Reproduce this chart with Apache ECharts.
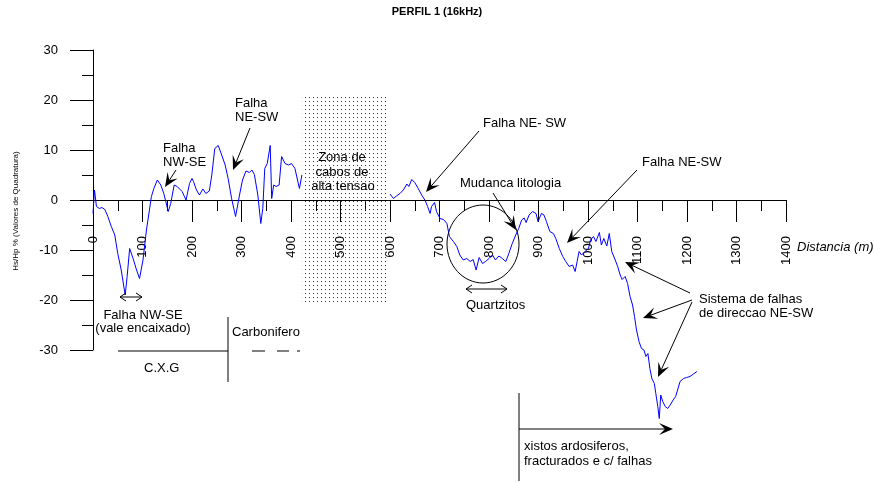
<!DOCTYPE html>
<html><head><meta charset="utf-8">
<script src="https://cdn.jsdelivr.net/npm/echarts@6/dist/echarts.min.js"></script>
<style>html,body{margin:0;padding:0;background:#fff}#c{width:874px;height:483px}</style>
</head><body><div id="c"></div>
<script>
// ---- data ----
const distance = [0,3,7,13,18,24,30,37,44,50,57,65,69,74,81,88,94,101,108,111,118,123,130,137,143,152,157,164,170,180,188,195,200,203,209,215,222,228,235,240,246,253,260,267,273,280,288,296,302,309,316,321,326,333,339,343,347,352,358,361,365,370,376,381,388,395,401,408,417,422,
  510,
  600,607,613,620,627,634,638,644,650,657,664,671,676,681,684,690,694,701,708,715,720,728,735,741,748,755,762,768,774,780,787,793,800,807,813,820,827,834,840,847,854,860,866,871,875,881,888,895,899,906,911,916,923,930,935,942,949,955,962,969,974,978,982,987,994,1001,1005,1011,1016,1023,1027,1032,1038,1043,1048,1055,1060,1065,1069,1075,1080,1085,1090,1094,1098,1103,1108,1113,1117,1121,1125,1129,1134,1137,1141,1144,1147,1151,1156,1161,1166,1172,1177,1181,1186,1193,1199,1206,1213,1220];
const hsHp = [-2.7,2,-1.3,-1.7,-1.5,-1.9,-3.3,-5.3,-7,-10.7,-14,-19,-15.3,-9.7,-11.7,-14,-15.7,-12,-6,-4,0.7,2.3,4,3,1.3,-2.3,-0.7,3,2.7,1.7,0,3.3,4.3,3.7,2,1,2.2,1.3,1.8,5,10.3,10.9,9,7,4.3,0.3,-3.3,1,4,5.8,5.5,6,5.1,1,-4.7,-1.7,6.3,7.3,10.9,0.3,3,2.7,3,8.7,7.3,7,7.3,6.3,2.3,5,
  null,
  1.2,0.3,0.8,1.3,2,3.2,2.7,4.1,3.5,2.3,1,-0.1,-1.3,-2.7,-1.3,-0.5,-2.3,-3.7,-3.9,-4.7,-7.3,-8.3,-9.3,-11,-12,-11.7,-12.3,-11.9,-14,-11.5,-12.7,-12.3,-11.7,-11,-12,-11.2,-11.7,-12.3,-10.7,-8.7,-7,-5.7,-4,-3.6,-4.5,-3,-2.3,-2.7,-4.3,-2.7,-3,-4.3,-6.3,-6.7,-7.7,-9.7,-11.3,-12.3,-13.3,-13,-14.3,-12.3,-10.3,-11,-10.3,-9.7,-8,-7.3,-8.3,-6.5,-9,-7.7,-9.2,-6.7,-10.3,-12,-13.3,-15,-15.9,-15.3,-16.7,-19.3,-21,-23.3,-26,-28.3,-29.7,-30,-31.3,-30.7,-33.7,-35.7,-36.7,-38.7,-41.3,-43.7,-39,-40.3,-41.3,-41.7,-41,-40,-39.3,-38,-36.3,-35.7,-35.5,-35.3,-34.8,-34.3];
const zoneX = [422, 594];   // "Zona de cabos de alta tensao"
const zoneY = [-21, 21];
const xRange = [0, 1400, 100];
const yRange = [-30, 30, 10];

// ---- helpers ----
const FAM = '"Liberation Sans", Arial, sans-serif';
const FONT = '13px ' + FAM;
function txt(t, x, y, align, font) {
  return {type:'text', z:10, style:{text:t, x:x, y:y, font:font||FONT, fill:'#000', textAlign:align||'left', textVerticalAlign:'middle'}};
}
function ln(x1,y1,x2,y2,w) {
  return {type:'line', z:10, shape:{x1,y1,x2,y2}, style:{stroke:'#000', lineWidth:w||1}};
}
function arrow(x1,y1,x2,y2) {
  const dx=x2-x1, dy=y2-y1, L=Math.hypot(dx,dy), ux=dx/L, uy=dy/L, nx=-uy, ny=ux;
  const H=14, W=6, N=8;
  const bx=x2-ux*N, by=y2-uy*N;
  return [ln(x1,y1,bx,by),
    {type:'polygon', z:11, shape:{points:[[x2,y2],[x2-ux*H+nx*W,y2-uy*H+ny*W],[bx,by],[x2-ux*H-nx*W,y2-uy*H-ny*W]]}, style:{fill:'#000'}}];
}
function dbl(xa,xb,y) {
  return [ln(xa,y,xb,y),
    {type:'polyline', z:10, shape:{points:[[xa+6,y-4],[xa,y],[xa+6,y+4]]}, style:{stroke:'#000',lineWidth:1,fill:null}},
    {type:'polyline', z:10, shape:{points:[[xb-6,y-4],[xb,y],[xb-6,y+4]]}, style:{stroke:'#000',lineWidth:1,fill:null}}];
}

// dotted pattern
const pc = document.createElement('canvas'); pc.width = 4; pc.height = 4;
const pctx = pc.getContext('2d'); pctx.fillStyle = '#333'; pctx.fillRect(1,1,1,1);

const graphics = [].concat(
  [txt('PERFIL 1 (16kHz)', 437, 12, 'center', 'bold 11px ' + FAM),
   {type:'text', z:10, x:16, y:211, rotation:Math.PI/2,
    style:{text:'Hs/Hp % (Valores de Quadratura)', x:0, y:0, font:'8px ' + FAM, fill:'#000', textAlign:'center', textVerticalAlign:'middle'}},
   txt('Distancia (m)', 797, 247, 'left', 'italic 13px ' + FAM),
   txt('Falha', 163, 148), txt('NW-SE', 163, 162),
   txt('Falha', 235, 103), txt('NE-SW', 235, 117),
   txt('Zona de', 342, 157, 'center'), txt('cabos de', 342, 172, 'center'), txt('alta tensao', 343, 186, 'center'),
   txt('Falha NE- SW', 483, 123),
   txt('Mudanca litologia', 460, 183),
   txt('Quartzitos', 466, 305),
   txt('Falha NE-SW', 642, 162),
   txt('Sistema de falhas', 699, 299), txt('de direccao NE-SW', 699, 313),
   txt('Falha NW-SE', 143, 315, 'center'), txt('(vale encaixado)', 143, 328, 'center'),
   txt('Carbonifero', 232, 332),
   txt('C.X.G', 144, 368),
   txt('xistos ardosiferos,', 524, 446), txt('fracturados e c/ falhas', 524, 461),
   {type:'ellipse', z:10, shape:{cx:483, cy:244, rx:36, ry:39}, style:{stroke:'#000', lineWidth:1, fill:null}},
   ln(519,393,519,481), ln(228,317,228,382), ln(118,351,228,351),
   ln(252,351,265,351), ln(277,351,289,351), ln(297,351,300,351)
  ],
  arrow(176,170,165,187), arrow(250,128,233,170), arrow(479,131,426,192), arrow(493,193,516,230),
  arrow(637,170,567,243), arrow(690,293,625,262), arrow(692,300,643,318), arrow(692,302,658,377),
  arrow(519,429,673,429),
  dbl(120,142,297), dbl(466,507,289)
);

const chart = echarts.init(document.getElementById('c'), null, {renderer:'canvas'});
chart.setOption({
  animation:false,
  backgroundColor:'#fff',
  grid:[{left:93, right:88, top:50, bottom:133},
        {left:93, right:88, top:50, bottom:283}],
  xAxis:[{type:'value', gridIndex:0, min:xRange[0], max:xRange[1], interval:xRange[2],
      show:false, axisLine:{show:false}, axisTick:{show:false}, axisLabel:{show:false}, splitLine:{show:false}},
    {type:'value', gridIndex:1, min:xRange[0], max:xRange[1], interval:xRange[2], position:'bottom',
      axisLine:{onZero:false, lineStyle:{color:'#000', width:1}},
      axisTick:{show:true, length:22, lineStyle:{color:'#000'}},
      minorTick:{show:true, splitNumber:2, length:11, lineStyle:{color:'#000'}},
      splitLine:{show:false},
      axisLabel:{rotate:90, margin:36, color:'#000', fontSize:13, fontFamily:FAM, formatter:(v)=>String(v)}}],
  yAxis:[{type:'value', gridIndex:0, min:yRange[0], max:yRange[1], interval:yRange[2],
      axisLine:{show:true, onZero:false, lineStyle:{color:'#000', width:1}},
      axisTick:{show:true, length:23, lineStyle:{color:'#000'}},
      minorTick:{show:true, splitNumber:2, length:11, lineStyle:{color:'#000'}},
      splitLine:{show:false},
      axisLabel:{margin:35, color:'#000', fontSize:13, fontFamily:FAM}},
    {type:'value', gridIndex:1, min:0, max:30, show:false, axisLine:{show:false}, axisLabel:{show:false}, splitLine:{show:false}}],
  series:[{
    type:'line', xAxisIndex:0, yAxisIndex:0, clip:false, showSymbol:false, symbol:'none',
    lineStyle:{color:'#0000ff', width:1},
    data: distance.map((d,i)=>[d, hsHp[i]]),
    markArea:{silent:true, itemStyle:{color:{image:pc, repeat:'repeat'}},
      data:[[{coord:[zoneX[0], zoneY[1]]},{coord:[zoneX[1], zoneY[0]]}]]}
  }],
  graphic: graphics
});
</script></body></html>
